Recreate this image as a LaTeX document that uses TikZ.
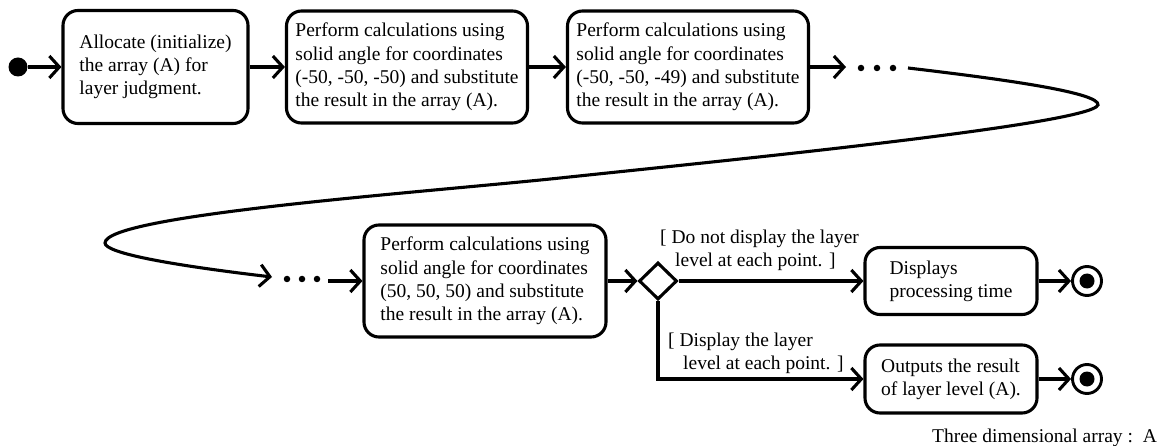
\documentclass[tikz,border=0pt]{standalone}
\usepackage{fontspec}
\setmainfont{Liberation Serif}
\usetikzlibrary{arrows.meta,shapes.geometric}
\begin{document}
\begin{tikzpicture}[x=1pt,y=-1pt,
  every node/.style={font=\fontsize{19.5}{23.3}\selectfont},
  actbox/.style={draw, line width=3.1pt, rounded corners=15pt, align=left, inner sep=0pt},
  flow/.style={line width=3.1pt, -{Straight Barb[length=10pt,width=22pt]}},
  ellipsisdot/.style={circle, fill, inner sep=0pt, minimum size=6.5pt},
  guard/.style={anchor=west, align=left, inner sep=0pt},
  finalstate/.style={circle, draw, line width=2.9pt, inner sep=0pt, minimum size=29pt}
]
\useasboundingbox (0,0) rectangle (1164,446);

% start
\node[circle, fill, inner sep=0pt, minimum size=19pt] (start) at (18,67) {};

% top row
\node[actbox, minimum width=185pt, minimum height=113pt] (b1) at (155.5,67)
  {Allocate (initialize)\\the array (A) for\\layer judgment.};
\node[actbox, minimum width=241pt, minimum height=112pt] (b2) at (407,67)
  {Perform calculations using\\solid angle for coordinates\\(-50, -50, -50) and substitute\\the result in the array (A).};
\node[actbox, minimum width=241pt, minimum height=112pt] (b3) at (688,67)
  {Perform calculations using\\solid angle for coordinates\\(-50, -50, -49) and substitute\\the result in the array (A).};

\coordinate (a1) at (846,67);
\node[ellipsisdot] (d1) at (861,68) {};
\node[ellipsisdot] (d2) at (877,68) {};
\node[ellipsisdot] (d3) at (893,68) {};

% loop curve
\coordinate (c0) at (908,68);
\coordinate (cT) at (1098,105);
\coordinate (cM) at (560,178);
\coordinate (cL) at (105,243);
\coordinate (cE) at (272,277);

\node[ellipsisdot] (e1) at (287,279) {};
\node[ellipsisdot] (e2) at (302,279) {};
\node[ellipsisdot] (e3) at (317,279) {};
\coordinate (a2) at (328,281);

% bottom row
\node[actbox, minimum width=242pt, minimum height=112pt] (b4) at (485,281)
  {Perform calculations using\\solid angle for coordinates\\(50, 50, 50) and substitute\\the result in the array (A).};
\node[diamond, draw, line width=3.1pt, inner sep=0pt, minimum width=38pt, minimum height=37pt] (dia) at (658,281) {};
\node[actbox, minimum width=172pt, minimum height=67pt] (b5) at (951,281)
  {Displays\\processing time};
\node[actbox, minimum width=172pt, minimum height=68pt] (b6) at (951,379)
  {Outputs the result\\of layer level (A).};

\node[finalstate] (f1) at (1087,281) {};
\fill (f1.center) circle (7.5pt);
\node[finalstate] (f2) at (1087,379) {};
\fill (f2.center) circle (7.5pt);

% guards
\node[guard] (g1) at (660,250) {[ Do not display the layer\\\hspace*{15pt}level at each point. ]};
\node[guard] (g2) at (668,353) {[ Display the layer\\\hspace*{15pt}level at each point. ]};

\node[anchor=east, inner sep=0pt] (note) at (1157,438) {Three dimensional array :\ \ A};

% connectors
\draw[flow] (start) -- (b1);
\draw[flow] (b1) -- (b2);
\draw[flow] (b2) -- (b3);
\draw[flow] (b3.east) -- (a1);
\draw[flow] (c0) .. controls (1010,80) and (1100,93) .. (cT)
  .. controls (1090,125) and (700,163) .. (cM)
  .. controls (420,192.7) and (105,215) .. (cL)
  .. controls (105,253) and (170,265) .. (cE);
\draw[flow] (a2) -- (b4);
\draw[flow] (b4) -- (dia);
\draw[flow] (dia) -- (b5);
\draw[flow] (dia.south) |- (b6.west);
\draw[flow] (b5) -- (f1);
\draw[flow] (b6) -- (f2);
\end{tikzpicture}
\end{document}
